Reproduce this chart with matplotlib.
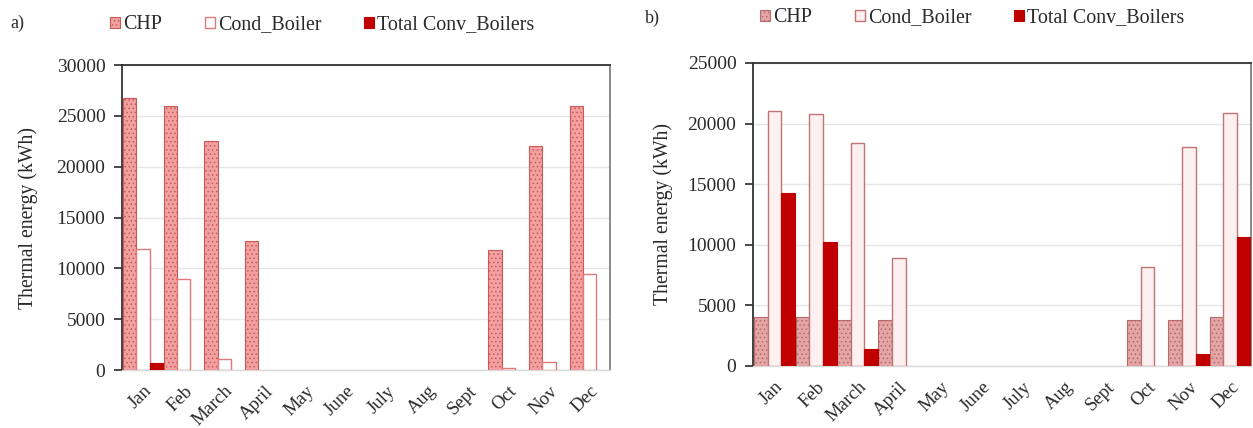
import matplotlib
matplotlib.use("Agg")
import matplotlib.pyplot as plt
import numpy as np

plt.rcParams['font.family'] = ['Liberation Serif', 'DejaVu Serif']
plt.rcParams['hatch.linewidth'] = 0.6

months = ["Jan", "Feb", "March", "April", "May", "June", "July", "Aug", "Sept", "Oct", "Nov", "Dec"]
series_names = ["CHP", "Cond_Boiler", "Total Conv_Boilers"]

a_chp = [26800, 26000, 22500, 12700, 0, 0, 0, 0, 0, 11800, 22000, 26000]
a_cond = [11900, 9000, 1100, 0, 0, 0, 0, 0, 0, 200, 800, 9400]
a_conv = [700, 0, 0, 0, 0, 0, 0, 0, 0, 0, 0, 0]

b_chp = [4000, 4000, 3800, 3800, 0, 0, 0, 0, 0, 3800, 3800, 4000]
b_cond = [21000, 20800, 18400, 8900, 0, 0, 0, 0, 0, 8200, 18100, 20900]
b_conv = [14300, 10200, 1400, 0, 0, 0, 0, 0, 0, 0, 1000, 10600]

fig = plt.figure(figsize=(12.53, 4.28), dpi=100)
axa = fig.add_axes([0.0974, 0.1355, 0.3894, 0.7125])
axb = fig.add_axes([0.601, 0.1449, 0.3974, 0.7081])

x = np.arange(len(months))
w = 0.33

styles_a = [
    dict(facecolor="#f3a0a0", edgecolor="#c85a5a", hatch="....", linewidth=0.8),
    dict(facecolor="white", edgecolor="#e07a7a", linewidth=1.0),
    dict(facecolor="#c00000", edgecolor="#c00000", linewidth=0.8),
]
styles_b = [
    dict(facecolor="#e3a5a5", edgecolor="#b86a6a", hatch="....", linewidth=0.8),
    dict(facecolor="#fcf0f0", edgecolor="#c07474", linewidth=1.0),
    dict(facecolor="#c00000", edgecolor="#c00000", linewidth=0.8),
]

TXT = "#2a2a2a"

def panel(ax, data, styles, ymax, label, lab_xy, leg_anchor, ylab_x):
    handles = []
    for k, (vals, st) in enumerate(zip(data, styles)):
        v = np.asarray(vals, dtype=float)
        m = v > 0
        h = ax.bar(x[m] + (k - 1) * w, v[m], width=w, label=series_names[k], zorder=3, **st)
        handles.append(h)
    ax.set_xlim(-0.52, 11.5)
    ax.set_ylim(0, ymax)
    ax.set_yticks(np.arange(0, ymax + 1, 5000))
    ax.yaxis.grid(True, color="#e6e6e6", linewidth=1.0, zorder=0)
    ax.set_axisbelow(True)
    ax.set_xticks(x)
    ax.set_xticklabels(months, rotation=45, ha="right", rotation_mode="anchor")
    ax.tick_params(axis="x", length=0, labelsize=13.5, pad=9, colors=TXT)
    ax.tick_params(axis="y", length=6, width=1.2, labelsize=14, colors=TXT, direction="out", pad=6)
    ax.set_ylabel("Thermal energy (kWh)", fontsize=14.2, color=TXT)
    ax.yaxis.set_label_coords(ylab_x, 0.5)
    ax.spines["left"].set_color("#333333")
    ax.spines["top"].set_color("#333333")
    ax.spines["right"].set_color("#808080")
    ax.spines["bottom"].set_color("#d9d9d9")
    for s in ax.spines.values():
        s.set_linewidth(1.3)
    ax.spines["bottom"].set_linewidth(1.0)
    leg = fig.legend(handles=handles, loc="center left", bbox_to_anchor=leg_anchor, ncol=3,
                     frameon=False, fontsize=14.4, handlelength=0.5, handleheight=0.5,
                     handletextpad=0.15, columnspacing=2.15, borderaxespad=0, borderpad=0)
    for t in leg.get_texts():
        t.set_color(TXT)
    fig.text(lab_xy[0], lab_xy[1], label, fontsize=13, color=TXT, va="center")

panel(axa, [a_chp, a_cond, a_conv], styles_a, 30000, "a)", (0.008, 0.946), (0.0878, 0.9416), -0.173)
panel(axb, [b_chp, b_cond, b_conv], styles_b, 25000, "b)", (0.5148, 0.958), (0.6065, 0.958), -0.161)

fig.savefig("out.png", dpi=100, facecolor="white")
